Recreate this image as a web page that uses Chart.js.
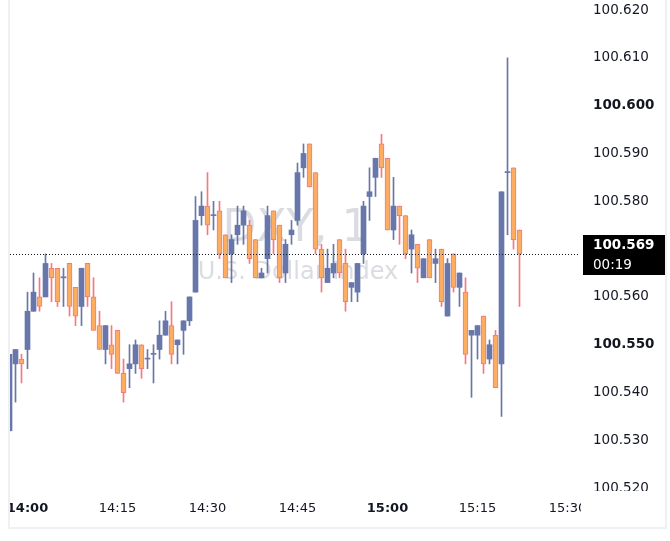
<!DOCTYPE html>
<html>
<head>
<meta charset="utf-8">
<title>DXY, 1</title>
<script src="https://cdn.jsdelivr.net/npm/chart.js@4.4.1/dist/chart.umd.min.js"></script>
<style>
  html, body { margin: 0; padding: 0; background: #ffffff; }
  #wrap { width: 670px; height: 541px; }
</style>
</head>
<body>
<div id="wrap"><canvas id="chart"></canvas></div>
<script>
// Candle data (1 minute bars)
const TIMES = [
  '13:57', '13:58', '13:59', '14:00', '14:01', '14:02', '14:03', '14:04', '14:05', '14:06',
  '14:07', '14:08', '14:09', '14:10', '14:11', '14:12', '14:13', '14:14', '14:15', '14:16',
  '14:17', '14:18', '14:19', '14:20', '14:21', '14:22', '14:23', '14:24', '14:25', '14:26',
  '14:27', '14:28', '14:29', '14:30', '14:31', '14:32', '14:33', '14:34', '14:35', '14:36',
  '14:37', '14:38', '14:39', '14:40', '14:41', '14:42', '14:43', '14:44', '14:45', '14:46',
  '14:47', '14:48', '14:49', '14:50', '14:51', '14:52', '14:53', '14:54', '14:55', '14:56',
  '14:57', '14:58', '14:59', '15:00', '15:01', '15:02', '15:03', '15:04', '15:05', '15:06',
  '15:07', '15:08', '15:09', '15:10', '15:11', '15:12', '15:13', '15:14', '15:15', '15:16',
  '15:17', '15:18', '15:19', '15:20', '15:21', '15:22'
];
const OPEN = [
  100.532, 100.546, 100.547, 100.549, 100.557, 100.560, 100.560, 100.566, 100.566, 100.564,
  100.567, 100.562, 100.558, 100.567, 100.560, 100.554, 100.549, 100.550, 100.553, 100.544,
  100.545, 100.546, 100.550, 100.547, 100.548, 100.549, 100.552, 100.554, 100.550, 100.553,
  100.555, 100.561, 100.577, 100.579, 100.577, 100.578, 100.573, 100.569, 100.573, 100.575,
  100.575, 100.572, 100.564, 100.568, 100.578, 100.575, 100.565, 100.573, 100.576, 100.587,
  100.592, 100.586, 100.570, 100.563, 100.565, 100.572, 100.567, 100.562, 100.561, 100.569,
  100.581, 100.585, 100.592, 100.589, 100.574, 100.579, 100.577, 100.570, 100.571, 100.564,
  100.572, 100.567, 100.570, 100.556, 100.569, 100.562, 100.561, 100.552, 100.552, 100.556,
  100.547, 100.552, 100.546, 100.586, 100.587, 100.574
];
const HIGH = [
  100.548, 100.549, 100.548, 100.561, 100.565, 100.564, 100.569, 100.567, 100.566, 100.566,
  100.567, 100.562, 100.566, 100.567, 100.564, 100.557, 100.554, 100.554, 100.553, 100.547,
  100.550, 100.551, 100.550, 100.549, 100.550, 100.555, 100.557, 100.559, 100.551, 100.555,
  100.560, 100.581, 100.582, 100.586, 100.580, 100.580, 100.573, 100.573, 100.579, 100.579,
  100.576, 100.572, 100.566, 100.579, 100.578, 100.575, 100.572, 100.576, 100.588, 100.592,
  100.592, 100.586, 100.571, 100.570, 100.571, 100.572, 100.570, 100.563, 100.567, 100.580,
  100.587, 100.589, 100.594, 100.589, 100.585, 100.579, 100.577, 100.574, 100.571, 100.568,
  100.572, 100.570, 100.570, 100.568, 100.569, 100.565, 100.564, 100.553, 100.554, 100.556,
  100.551, 100.553, 100.582, 100.610, 100.587, 100.574
];
const LOW = [
  100.532, 100.538, 100.542, 100.545, 100.557, 100.557, 100.560, 100.559, 100.558, 100.558,
  100.556, 100.554, 100.554, 100.558, 100.553, 100.549, 100.546, 100.545, 100.544, 100.538,
  100.541, 100.544, 100.543, 100.545, 100.542, 100.547, 100.552, 100.546, 100.546, 100.548,
  100.554, 100.561, 100.575, 100.573, 100.574, 100.568, 100.564, 100.563, 100.571, 100.571,
  100.567, 100.564, 100.564, 100.565, 100.569, 100.563, 100.563, 100.571, 100.575, 100.585,
  100.583, 100.569, 100.561, 100.563, 100.564, 100.564, 100.557, 100.559, 100.559, 100.567,
  100.576, 100.581, 100.585, 100.574, 100.572, 100.571, 100.568, 100.565, 100.563, 100.564,
  100.564, 100.563, 100.558, 100.556, 100.561, 100.558, 100.546, 100.539, 100.547, 100.544,
  100.546, 100.541, 100.535, 100.573, 100.570, 100.558
];
const CLOSE = [
  100.548, 100.549, 100.546, 100.557, 100.561, 100.558, 100.567, 100.564, 100.559, 100.564,
  100.558, 100.556, 100.566, 100.560, 100.553, 100.549, 100.554, 100.548, 100.544, 100.540,
  100.546, 100.550, 100.545, 100.547, 100.548, 100.552, 100.555, 100.548, 100.551, 100.555,
  100.560, 100.576, 100.579, 100.575, 100.577, 100.569, 100.564, 100.572, 100.575, 100.578,
  100.568, 100.564, 100.565, 100.577, 100.572, 100.564, 100.571, 100.574, 100.586, 100.590,
  100.583, 100.570, 100.564, 100.566, 100.567, 100.565, 100.559, 100.563, 100.567, 100.579,
  100.582, 100.589, 100.587, 100.574, 100.579, 100.577, 100.569, 100.573, 100.566, 100.568,
  100.564, 100.568, 100.559, 100.567, 100.562, 100.565, 100.548, 100.553, 100.554, 100.546,
  100.550, 100.541, 100.582, 100.586, 100.572, 100.569
];

// Axis ticks
const X_TICKS = ['14:00', '14:15', '14:30', '14:45', '15:00', '15:15', '15:30'];
const X_TICKS_BOLD = ['14:00', '15:00'];
const Y_TICKS = [100.520, 100.530, 100.540, 100.550, 100.560, 100.570, 100.580, 100.590, 100.600, 100.610, 100.620];
const Y_TICKS_BOLD = [100.550, 100.600];
const Y_HIDDEN = [100.570]; // hidden behind the last price label

// Texts
const WATERMARK_TITLE = 'DXY, 1';
const WATERMARK_SUBTITLE = 'U.S. Dollar Index';
const COUNTDOWN = '00:19';

// Visible window
const X_MIN = 837.0833; // minutes after midnight
const X_MAX = 932.0833;
const Y_MIN = 100.5192;
const Y_MAX = 100.6221;

// Colours
const UP_COLOR = '#6877ab';
const DOWN_FILL = '#fcad61';
const DOWN_LINE = '#f6797f';
const TEXT_COLOR = '#131722';
const FONT = '"DejaVu Sans", "Liberation Sans", sans-serif';

function toMinutes(t) {
  const parts = t.split(':');
  return parseInt(parts[0]) * 60 + parseInt(parts[1]);
}

function isUp(i) {
  return CLOSE[i] >= OPEN[i];
}

const bodies = TIMES.map((t, i) => ({ x: toMinutes(t), y: [OPEN[i], CLOSE[i]] }));
const wicks = TIMES.map((t, i) => ({ x: toMinutes(t), y: [LOW[i], HIGH[i]] }));
const lastPrice = CLOSE[CLOSE.length - 1];

// Watermark behind the candles
const watermarkPlugin = {
  id: 'watermark',
  beforeDatasetsDraw(chart) {
    const { ctx, chartArea } = chart;
    const cx = (chartArea.left + chartArea.right) / 2 + 1;
    const cy = (chartArea.top + chartArea.bottom) / 2;
    ctx.save();
    ctx.fillStyle = 'rgba(135, 140, 155, 0.3)';
    ctx.textAlign = 'center';
    ctx.textBaseline = 'alphabetic';
    ctx.font = '44px ' + FONT;
    ctx.fillText(WATERMARK_TITLE, cx, cy - 5);
    ctx.font = '24px ' + FONT;
    ctx.fillText(WATERMARK_SUBTITLE, cx + 2, cy + 33);
    ctx.restore();
  }
};

// Dotted line at the last price and the price label on the right axis
const lastPricePlugin = {
  id: 'lastPrice',
  afterDatasetsDraw(chart) {
    const { ctx, chartArea } = chart;
    const y = Math.round(chart.scales.y.getPixelForValue(lastPrice)) + 0.5;
    ctx.save();
    ctx.strokeStyle = TEXT_COLOR;
    ctx.lineWidth = 1;
    ctx.setLineDash([1, 2]);
    ctx.beginPath();
    ctx.moveTo(chartArea.left, y);
    ctx.lineTo(chartArea.right, y);
    ctx.stroke();
    ctx.restore();
  },
  afterDraw(chart) {
    const { ctx, chartArea } = chart;
    const y = chart.scales.y.getPixelForValue(lastPrice);
    ctx.save();
    // clip the axis labels like the original panes do
    ctx.fillStyle = '#ffffff';
    ctx.fillRect(0, chartArea.bottom, chartArea.left, 37);
    ctx.fillRect(chartArea.right + 1, chartArea.bottom - 1, 90, 38);
    // frame
    ctx.fillStyle = '#eef0f3';
    ctx.fillRect(chartArea.left - 2, 0, 2, chartArea.bottom + 37);
    ctx.fillRect(chartArea.left - 2, chartArea.bottom + 35, 659, 2);
    ctx.fillRect(665, 0, 2, chartArea.bottom + 37);
    // last price box
    ctx.fillStyle = '#000000';
    ctx.fillRect(chartArea.right + 3, Math.round(y - 19), 82, 40);
    ctx.fillStyle = '#ffffff';
    ctx.textAlign = 'left';
    ctx.textBaseline = 'middle';
    ctx.font = 'bold 13.5px ' + FONT;
    ctx.fillText(lastPrice.toFixed(3), chartArea.right + 13, y - 8);
    ctx.font = '13.5px ' + FONT;
    ctx.fillText(COUNTDOWN, chartArea.right + 13, y + 12);
    ctx.restore();
  }
};

const ctx = document.getElementById('chart').getContext('2d');
const chart = new Chart(ctx, {
  type: 'bar',
  data: {
    datasets: [{
      label: 'body',
      data: bodies,
      order: 0,
      clip: 0,
      grouped: false,
      barThickness: 5,
      minBarLength: 1,
      borderSkipped: false,
      backgroundColor: c => isUp(c.dataIndex) ? UP_COLOR : DOWN_FILL,
      borderColor: c => isUp(c.dataIndex) ? UP_COLOR : DOWN_LINE,
      borderWidth: c => isUp(c.dataIndex) ? 0 : 1
    }, {
      label: 'wick',
      data: wicks,
      order: 1,
      clip: 0,
      grouped: false,
      barThickness: 1,
      borderWidth: 0,
      backgroundColor: c => isUp(c.dataIndex) ? UP_COLOR : DOWN_LINE
    }]
  },
  options: {
    responsive: true,
    maintainAspectRatio: false,
    animation: false,
    events: [],
    layout: { autoPadding: false, padding: { left: 10, right: 0, top: 0, bottom: 12 } },
    plugins: {
      legend: { display: false },
      tooltip: { enabled: false }
    },
    scales: {
      x: {
        type: 'linear',
        offset: false,
        min: X_MIN,
        max: X_MAX,
        grid: { display: false, drawTicks: false },
        border: { display: false },
        afterBuildTicks: s => { s.ticks = X_TICKS.map(t => ({ value: toMinutes(t) })); },
        afterFit: s => { s.height = 37; s.paddingLeft = 0; s.paddingRight = 0; },
        ticks: {
          autoSkip: false,
          maxRotation: 0,
          padding: 9,
          color: TEXT_COLOR,
          callback: (v, i) => X_TICKS[i],
          font: c => ({
            family: FONT,
            size: 13,
            weight: X_TICKS_BOLD.includes(X_TICKS[c.index]) ? 'bold' : 'normal'
          })
        }
      },
      y: {
        position: 'right',
        min: Y_MIN,
        max: Y_MAX,
        grid: { display: false, drawTicks: false },
        border: { display: false },
        afterBuildTicks: s => { s.ticks = Y_TICKS.map(v => ({ value: v })); },
        afterFit: s => { s.width = 90; s.paddingTop = 0; s.paddingBottom = 0; },
        ticks: {
          padding: 13,
          color: c => Y_HIDDEN.includes(Y_TICKS[c.index]) ? 'rgba(0,0,0,0)' : TEXT_COLOR,
          callback: v => v.toFixed(3),
          font: c => ({
            family: FONT,
            size: 13.5,
            weight: Y_TICKS_BOLD.includes(Y_TICKS[c.index]) ? 'bold' : 'normal'
          })
        }
      }
    }
  },
  plugins: [watermarkPlugin, lastPricePlugin]
});
</script>
</body>
</html>
